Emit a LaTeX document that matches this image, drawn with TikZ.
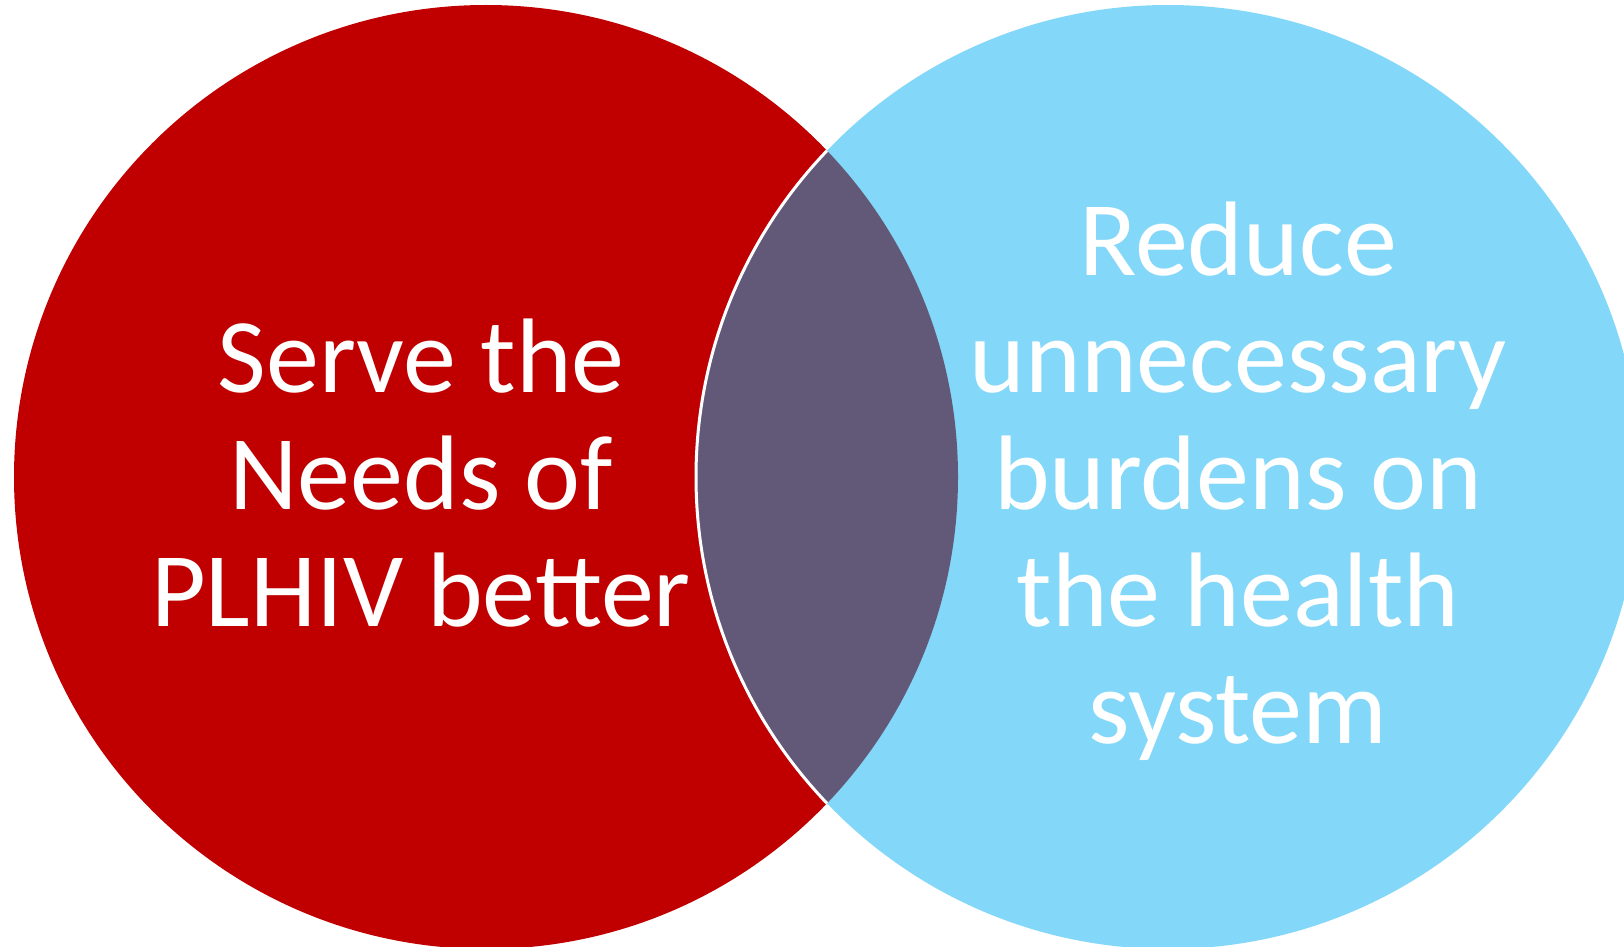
\documentclass[tikz,border=0pt]{standalone}
\usepackage{fontspec}
\setmainfont{Carlito}
\definecolor{vred}{HTML}{C00000}
\definecolor{vblue}{HTML}{83D7F8}
\definecolor{vpurple}{HTML}{625979}
\begin{document}
\begin{tikzpicture}[x=1pt,y=-1pt,
  vtext/.style={text=white,align=center,inner sep=0pt,anchor=base,
    font=\fontsize{106}{117}\selectfont}]
\useasboundingbox (0,0) rectangle (1624,947);
\coordinate (cl) at (486,477);
\coordinate (cr) at (1168,477);
\fill[vred] (cl) circle[radius=472pt];
\fill[vblue] (cr) circle[radius=472pt];
\begin{scope}
  \clip (cl) circle[radius=472pt];
  \fill[vpurple] (cr) circle[radius=472pt];
  \draw[white,line width=3pt] (cr) circle[radius=472pt];
\end{scope}
\node[vtext] (serve) at (421,626) {Serve the\\Needs of\\PLHIV better};
\node[vtext] (reduce) at (1238,743) {Reduce\\unnecessary\\burdens on\\the health\\system};
\end{tikzpicture}
\end{document}
